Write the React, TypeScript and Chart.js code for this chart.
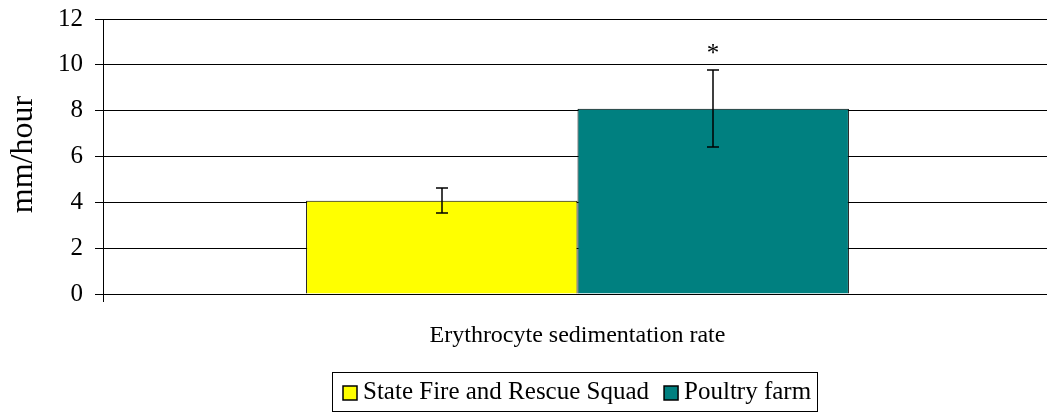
import React, { useEffect, useRef } from "react";
import { Chart, registerables } from "chart.js";

Chart.register(...registerables);

const categories = ["Erythrocyte sedimentation rate"];
const seriesNames = ["State Fire and Rescue Squad", "Poultry farm"];
const seriesValues = [[4.07], [8.08]];
const seriesErrors = [[0.55], [1.68]];
const seriesColors = ["#FFFF00", "#008080"];
const significance = [[""], ["*"]];
const yTicks = [0, 2, 4, 6, 8, 10, 12];
const yTitle = "mm/hour";

const FONT = "'Liberation Serif', 'Times New Roman', serif";

const extrasPlugin = {
  id: "extras",
  afterDatasetsDraw(chart: any) {
    const ctx = chart.ctx;
    const yScale = chart.scales.y;
    ctx.save();
    ctx.strokeStyle = "#000";
    ctx.lineWidth = 1.5;
    ctx.fillStyle = "#000";
    seriesValues.forEach((vals, di) => {
      const meta = chart.getDatasetMeta(di);
      vals.forEach((v, i) => {
        const bar = meta.data[i];
        const x = Math.round(bar.x);
        const err = seriesErrors[di][i];
        const yTop = Math.round(yScale.getPixelForValue(v + err));
        const yBot = Math.round(yScale.getPixelForValue(v - err));
        ctx.beginPath();
        ctx.moveTo(x, yTop);
        ctx.lineTo(x, yBot);
        ctx.moveTo(x - 6, yTop);
        ctx.lineTo(x + 6, yTop);
        ctx.moveTo(x - 6, yBot);
        ctx.lineTo(x + 6, yBot);
        ctx.stroke();
        const mark = significance[di][i];
        if (mark) {
          ctx.font = `25px ${FONT}`;
          ctx.textAlign = "center";
          ctx.textBaseline = "middle";
          ctx.fillText(mark, x, yTop - 16);
        }
      });
    });
    ctx.restore();
  },
  afterDraw(chart: any) {
    const ctx = chart.ctx;
    const area = chart.chartArea;
    ctx.save();
    // y title
    ctx.font = `32px ${FONT}`;
    ctx.fillStyle = "#000";
    ctx.textAlign = "center";
    ctx.textBaseline = "middle";
    ctx.translate(24, (area.top + area.bottom) / 2 - 2);
    ctx.rotate(-Math.PI / 2);
    ctx.fillText(yTitle, 0, 0);
    ctx.restore();

    // legend with border
    ctx.save();
    ctx.font = `25px ${FONT}`;
    const box = 14;
    const gapText = 6;
    const gapItem = 15;
    const padL = 11;
    const padR = 6;
    const widths = seriesNames.map((n) => ctx.measureText(n).width);
    let inner = 0;
    widths.forEach((w, i) => {
      inner += box + gapText + w + (i < widths.length - 1 ? gapItem : 0);
    });
    const total = padL + inner + padR;
    const cx = (area.left + area.right) / 2 - 2.5;
    const left = Math.round(cx - total / 2);
    const top = 372;
    const bottom = 411;
    ctx.strokeStyle = "#000";
    ctx.lineWidth = 1;
    ctx.strokeRect(left + 0.5, top + 0.5, Math.round(total), bottom - top);
    const midY = (top + bottom) / 2 + 1;
    let x = left + padL;
    ctx.textAlign = "left";
    ctx.textBaseline = "middle";
    seriesNames.forEach((n, i) => {
      ctx.fillStyle = seriesColors[i];
      ctx.fillRect(x, Math.round(midY - box / 2), box, box);
      ctx.strokeStyle = "#000";
      ctx.lineWidth = 1.5;
      ctx.strokeRect(x, Math.round(midY - box / 2), box, box);
      ctx.fillStyle = "#000";
      ctx.fillText(n, x + box + gapText, midY);
      x += box + gapText + widths[i] + gapItem;
    });
    ctx.restore();
  },
};

export default function App() {
  const ref = useRef<HTMLCanvasElement | null>(null);
  useEffect(() => {
    if (!ref.current) return;
    const chart = new Chart(ref.current, {
      type: "bar",
      data: {
        labels: categories,
        datasets: seriesNames.map((name, i) => ({
          label: name,
          data: seriesValues[i],
          backgroundColor: seriesColors[i],
          borderColor: "#000",
          borderWidth: 1,
          barPercentage: 1,
          categoryPercentage: 0.572,
        })),
      },
      options: {
        responsive: false,
        animation: false,
        devicePixelRatio: 1,
        layout: { padding: { top: 19, right: 0, bottom: 0, left: 0 } },
        plugins: {
          legend: { display: false },
          tooltip: { enabled: false },
        },
        scales: {
          x: {
            grid: { display: true, drawOnChartArea: false, tickLength: 8, color: "#000" },
            border: { display: true, color: "#000" },
            ticks: { font: { family: FONT, size: 24 }, color: "#000", padding: 19 },
            afterFit: (s: any) => { s.height = 125; s.paddingLeft = 0; s.paddingRight = 0; },
          },
          y: {
            min: 0,
            max: 12,
            afterBuildTicks: (s: any) => { s.ticks = yTicks.map((v) => ({ value: v })); },
            grid: { color: "#000", lineWidth: 1, tickLength: 8 },
            border: { display: true, color: "#000" },
            ticks: { font: { family: FONT, size: 25 }, color: "#000", padding: 12 },
            afterFit: (s: any) => { s.width = 103; s.paddingTop = 0; s.paddingBottom = 0; },
          },
        },
      },
      plugins: [extrasPlugin],
    } as any);
    return () => chart.destroy();
  }, []);
  return (
    <div style={{ position: "absolute", left: 0, top: 0, width: 1047, height: 419, overflow: "hidden", background: "#fff" }}>
      <canvas ref={ref} width={1052} height={419} style={{ display: "block" }} />
    </div>
  );
}
